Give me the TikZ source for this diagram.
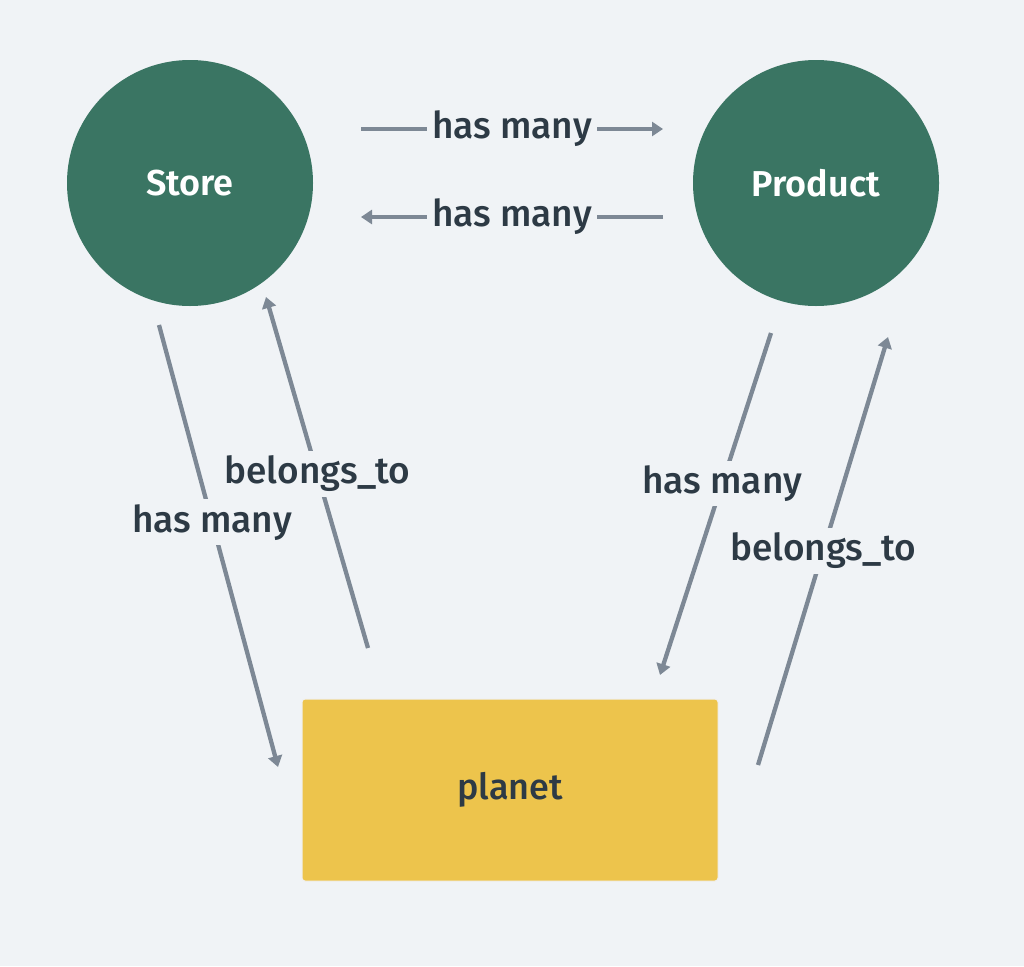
\documentclass[tikz,border=0pt]{standalone}
\usepackage{fontspec}
\setmainfont{Fira Sans Medium}
\newfontfamily\headfont{Fira Sans SemiBold}
\usetikzlibrary{arrows.meta}
\definecolor{bg}{HTML}{F0F3F6}
\definecolor{nodegreen}{HTML}{3A7563}
\definecolor{ink}{HTML}{2D3A45}
\definecolor{wire}{HTML}{7D8895}
\definecolor{gold}{HTML}{EDC44C}
\tikzset{
  entity/.style={circle, fill=nodegreen, minimum size=246pt, inner sep=0pt, text=white,
    font=\fontsize{36}{40}\selectfont\headfont},
  tablebox/.style={rectangle, rounded corners=3pt, fill=gold, draw=black!6, line width=1pt,
    minimum width=416pt, minimum height=182pt, inner sep=0pt, text=ink,
    font=\fontsize{36}{40}\selectfont},
  link/.style={draw=wire, line width=4.3pt, -{Triangle[length=11pt,width=14pt]}},
  lbl/.style={fill=bg, text=ink, inner sep=5pt, font=\fontsize{37}{40}\selectfont}
}
\begin{document}
\begin{tikzpicture}[x=1pt,y=-1pt]
\fill[bg] (0,0) rectangle (1024,966);
\useasboundingbox (0,0) rectangle (1024,966);
\node[entity] (store) at (190,183) {Store};
\node[entity] (product) at (816,183) {Product};
\node[tablebox] (planet) at (510,790) {planet};
% free ends
\coordinate (sp1) at (361,129);
\coordinate (sp2) at (663,129);
\coordinate (ps1) at (663,217);
\coordinate (ps2) at (361,217);
\coordinate (spl1) at (159,325);
\coordinate (spl2) at (278,767);
\coordinate (pls1) at (368,648);
\coordinate (pls2) at (266,297);
\coordinate (ppl1) at (771,333);
\coordinate (ppl2) at (660,675);
\coordinate (plp1) at (758,765);
\coordinate (plp2) at (888,337);
\draw[link] (sp1) -- node[lbl] {has many} (sp2);
\draw[link] (ps1) -- node[lbl] {has many} (ps2);
\draw[link] (spl1) -- node[lbl, pos=0.446] {has many} (spl2);
\draw[link] (pls1) -- node[lbl, pos=0.496] {belongs\_to} (pls2);
\draw[link] (ppl1) -- node[lbl, pos=0.44] {has many} (ppl2);
\draw[link] (plp1) -- node[lbl, pos=0.50] {belongs\_to} (plp2);
\end{tikzpicture}
\end{document}
